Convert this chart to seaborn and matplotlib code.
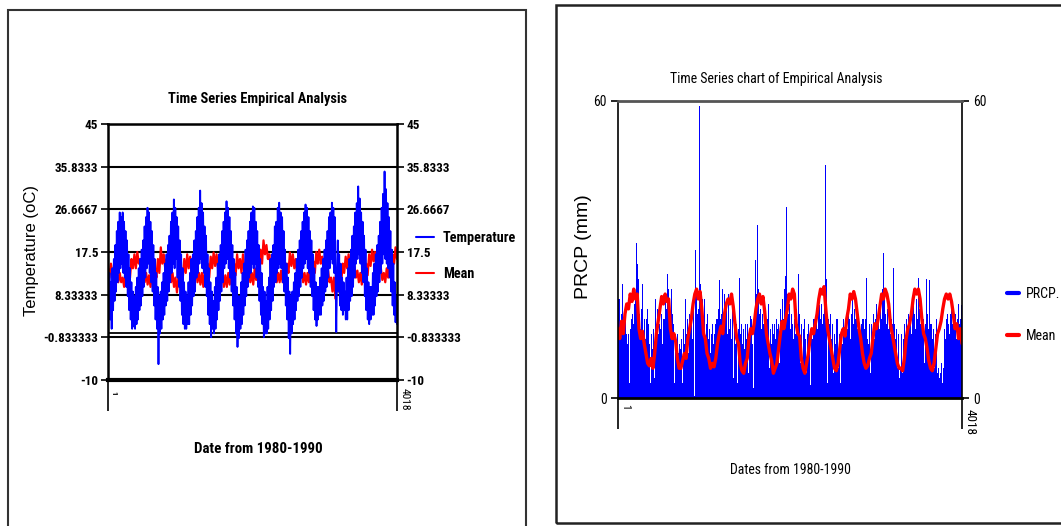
import numpy as np
import pandas as pd
import matplotlib
matplotlib.use('Agg')
import matplotlib.pyplot as plt
import seaborn as sns
from matplotlib import font_manager as fm
from matplotlib.lines import Line2D
from matplotlib.patches import Rectangle

# ---------------- Temperature, read roughly every 10 days (36 values a year)
t1980 = [10, 3, 13, 3, 11, 1, 14, 5, 16, 7, 19, 9, 22, 11, 24, 13, 26, 14, 25, 15, 26, 13, 24, 12, 22, 10, 20, 8, 17, 5, 14, 3, 11, 1, 9, 1.5]
t1981 = [8, 1, 10, 2, 12, 3, 14, 5, 16, 6, 18, 8, 20, 10, 23, 12, 25, 14, 27, 15, 26, 13, 24, 11, 22, 9, 19, 6, 16, 3, 13, 1, 10, -6.6, 8, 0]
t1982 = [9, 1, 11, 3, 13, 4, 15, 6, 17, 7, 19, 9, 21, 11, 24, 13, 26, 15, 28.8, 14, 27, 16, 25, 12, 23, 10, 20, 7, 17, 4, 14, 2, 11, 1, 9, 1]
t1983 = [8, 2, 11, 2, 13, 4, 16, 6, 17, 8, 20, 9, 22, 12, 25, 13, 27, 15, 30.7, 16, 28, 14, 26, 13, 23, 10, 21, 8, 17, 4, 14, 2, 11, -0.8, 9, 1]
t1984 = [7, 0, 10, 1, 12, 3, 15, 5, 17, 7, 19, 9, 22, 11, 24, 14, 26, 15, 28.4, 16, 27, 14, 25, 12, 22, 9, 19, 6, 16, 3, 13, 0, 10, -2.9, 8, -1]
t1985 = [8, 1, 11, 2, 13, 4, 15, 6, 18, 8, 20, 10, 22, 12, 24, 13, 26, 15, 27.3, 14, 27, 15, 24, 12, 22, 10, 19, 7, 16, 4, 13, 2, 10, -0.8, 9, 0]
t1986 = [7, 0, 10, 1, 12, 3, 16, 5, 17, 7, 19, 10, 23, 11, 24, 13, 27, 14, 28.1, 15, 26, 14, 25, 11, 22, 9, 18, 6, 15, 3, 12, -1, 9, -4.4, 8, 0]
t1987 = [9, 2, 11, 3, 13, 5, 16, 7, 18, 8, 20, 10, 22, 12, 24, 14, 26, 15, 27.7, 16, 27, 14, 25, 13, 22, 10, 20, 8, 17, 5, 14, 3, 11, 1.6, 10, 3]
t1988 = [10, 4, 12, 4, 14, 6, 16, 7, 18, 9, 20, 10, 22, 12, 25, 14, 26, 16, 28.1, 15, 27, 13, 25, 12, 0.3, 11, 20, 9, 17, 6, 15, 5, 12, 4, 11, 5]
t1989 = [9, 3, 12, 3, 14, 5, 16, 7, 18, 8, 21, 10, 23, 12, 26, 15, 28, 16, 31.6, 17, 29, 15, 26, 13, 24, 11, 21, 8, 18, 5, 14, 3, 11, 2, 10, 3]
t1990 = [10, 4, 13, 4, 15, 6, 17, 8, 19, 9, 21, 11, 24, 13, 27, 15, 30, 17, 34.8, 16, 31, 15, 28, 14, 25, 12, 22, 9, 18, 6, 15, 4, 11, 2.4, 8, 2]

# ---------------- Temperature mean, about every 20 days (18 values a year)
tm1980 = [14, 12, 15, 13, 14, 12, 13, 11, 13, 11, 12, 10, 13, 11, 14, 12, 16, 14]
tm1981 = [17, 14, 17.5, 15, 16, 13, 14, 11, 13, 10.5, 12.5, 10, 13, 11, 14, 12, 16, 13]
tm1982 = [18.5, 15, 17, 14, 16, 13, 14, 11, 13, 10, 12, 8.8, 12, 10, 14, 12, 16, 13]
tm1983 = [17, 14, 16.5, 13.5, 15, 12, 14, 11, 13, 10.5, 13, 10, 13.5, 11, 15, 12, 16.5, 14]
tm1984 = [17.4, 14.5, 17, 14, 15.5, 12, 13, 10, 12.5, 10, 13, 10.5, 14, 11, 15, 12.5, 17, 14]
tm1985 = [16, 13, 17, 14, 15, 12.5, 14, 11, 13, 10.5, 14, 11.5, 16, 13, 18, 15, 20, 17]
tm1986 = [19, 16, 17, 14, 15, 12, 14, 11, 13, 11, 13.5, 11, 14, 12, 15, 13, 17.4, 14.5]
tm1987 = [17, 14, 16, 13, 15, 12, 14, 11, 13, 10.5, 13, 11, 14, 11.5, 15.5, 13, 17.5, 15]
tm1988 = [18, 15, 16.5, 13.5, 15, 12, 13.5, 11, 12, 9, 12, 7.5, 11, 9, 13, 11, 15, 13]
tm1989 = [16.5, 14, 17, 14, 16, 13, 14.5, 12, 13.5, 11, 13, 10.5, 14, 11, 15, 12.5, 17, 14.5]
tm1990 = [18, 15.5, 17.5, 14, 15.5, 13, 14, 11.5, 13, 11, 14, 12, 15, 13, 17, 15, 18.5, 16]

# ---------------- Precipitation, about every 11 days (32 values a year)
p1980 = [20, 16, 20, 15, 17, 23, 15, 14, 16, 13, 11, 13, 3, 14, 16, 17, 15, 19, 21, 31.4, 27, 24, 17, 14, 18, 23, 13, 16, 12, 16, 18, 15]
p1981 = [11, 3, 13, 10, 14, 4, 20, 15, 18, 13, 15, 14, 17, 11, 16, 16, 21, 15, 18, 25, 22, 17, 13, 22, 17, 15, 3, 12, 10, 13, 9, 11]
p1982 = [10, 12, 3, 14, 11, 20, 13, 16, 9, 17, 15, 16, 12, 19, 0.5, 30, 21, 17, 18, 59, 23, 17, 20, 14, 20, 11, 15, 17, 12, 14, 9, 13]
p1983 = [15, 11, 13, 15, 4, 16, 14, 18, 23.8, 16, 17, 22, 15, 21, 17, 19, 13, 21, 14, 16, 12, 18, 4, 15, 11, 15, 3, 14, 24.2, 13, 15, 11]
p1984 = [14, 10, 15, 12, 15, 5, 14, 16.6, 16, 11, 2, 15, 27.9, 21, 35, 22, 17, 18, 14, 17, 15, 13, 17, 12, 15, 16, 19, 6, 14, 11, 15, 13]
p1985 = [15, 12, 16, 14, 15, 7, 18, 15, 20, 16, 22, 24.6, 38.5, 21, 17, 19, 14, 17, 15, 12, 16, 13, 18, 15, 25, 17, 7, 15, 6, 14, 16, 12]
p1986 = [5, 13, 15, 11, 2.6, 14, 12, 15, 16, 13, 15, 17, 14, 18, 18.8, 16, 19, 15, 17, 22, 47, 24, 3, 16, 15, 17, 12, 15, 5, 13, 11, 16]
p1987 = [16, 6, 13, 3, 14, 11, 16, 13, 15, 17, 14, 19, 16, 12, 17, 21, 15, 18, 16, 20, 14, 17, 15, 11, 15, 13, 16, 6, 14, 16, 24.3, 12]
p1988 = [11, 15, 5, 15, 13, 17, 12, 16, 19, 15, 17, 14, 20, 16, 22, 29.3, 21, 17, 15, 18, 14, 17, 13, 16, 15, 26.3, 15, 12, 14, 6, 13, 4]
p1989 = [6, 13, 5, 12, 15, 11, 16, 14, 17, 15, 17, 13, 16, 19, 15, 17, 14, 20, 16, 24.3, 18, 15, 17, 13, 16, 7, 15, 24, 17, 14, 23.8, 15]
p1990 = [15, 12, 14, 6, 13, 16, 5, 6, 4, 5, 7, 3, 6, 14, 12, 16, 17, 15, 13, 17, 19.8, 15, 18, 14, 17, 12, 16, 19, 15, 16, 18.7, 15]

# ---------------- Precipitation mean, about every 20 days (18 values a year)
pm1980 = [14, 12, 15.5, 13, 17, 19, 18, 21, 19.5, 22, 20, 21, 14, 12, 13.5, 11, 9, 7]
pm1981 = [6.5, 8, 6, 9, 13, 15.5, 18, 20.5, 19, 21, 19.5, 20, 14, 12, 13, 11.5, 8, 6]
pm1982 = [6, 7.5, 9, 8, 12, 14, 16, 19, 21, 22, 20, 21.5, 18, 13, 12, 9, 8, 6]
pm1983 = [7, 6.3, 8, 11, 13, 14.5, 13, 17, 19, 20, 19, 21, 18.5, 15, 12, 11, 7, 5.5]
pm1984 = [5, 7, 8, 12, 14, 13, 15, 18, 20, 21, 19, 20.5, 17.5, 13, 11, 9, 7.5, 5]
pm1985 = [6, 7, 10, 13, 15.5, 14, 16, 18, 21, 20, 22, 21, 15, 13, 12.5, 8, 6, 5]
pm1986 = [7, 9, 12, 14, 13, 15, 17, 20, 22, 21, 22.5, 18, 14, 12, 10, 8, 6, 5.5]
pm1987 = [7, 10, 13, 14, 12.5, 16, 18, 21, 20, 21.5, 20, 17, 14, 12, 9, 7, 6, 6.5]
pm1988 = [8, 9, 12, 15, 14, 16, 18.5, 21, 20, 22, 21, 19, 15, 13, 11, 9, 7, 6]
pm1989 = [6, 5.5, 8, 12, 14, 15, 17, 20, 22, 21, 22, 20, 16, 13, 12, 10, 7.5, 6]
pm1990 = [5.5, 7, 10, 13, 14, 15.5, 18, 20, 21, 20, 21, 19.5, 17, 14, 15, 12, 14, 11]

temp_ticks = [45, 35.8333, 26.6667, 17.5, 8.33333, -0.833333, -10]
temp_tick_labels = ['45', '35.8333', '26.6667', '17.5', '8.33333', '-0.833333', '-10']
prcp_ticks = [0, 60]
n_days = 4018

temp = np.concatenate([t1980, t1981, t1982, t1983, t1984, t1985, t1986, t1987, t1988, t1989, t1990])
temp_mean = np.concatenate([tm1980, tm1981, tm1982, tm1983, tm1984, tm1985, tm1986, tm1987, tm1988, tm1989, tm1990])
prcp = np.concatenate([p1980, p1981, p1982, p1983, p1984, p1985, p1986, p1987, p1988, p1989, p1990])
prcp_mean = np.concatenate([pm1980, pm1981, pm1982, pm1983, pm1984, pm1985, pm1986, pm1987, pm1988, pm1989, pm1990])

t_df = pd.DataFrame({'day': np.linspace(1, n_days, len(temp)), 'value': temp})
tm_df = pd.DataFrame({'day': np.linspace(1, n_days, len(temp_mean)), 'value': temp_mean})
p_df = pd.DataFrame({'day': np.linspace(1, n_days, len(prcp)), 'value': prcp})
pm_df = pd.DataFrame({'day': np.linspace(1, n_days, len(prcp_mean)), 'value': prcp_mean})

sns.set_style('white')
plt.rcParams['font.family'] = ['Liberation Sans', 'DejaVu Sans']
for key in ['text.color', 'axes.labelcolor', 'xtick.color', 'ytick.color']:
    plt.rcParams[key] = 'black'

# pick a narrow face if one is installed, else Arial-metric Liberation Sans at smaller size
installed = {f.name for f in fm.fontManager.ttflist}
narrow_name = next((n for n in ['Liberation Sans Narrow', 'Arial Narrow', 'Roboto Condensed',
                                'Open Sans Condensed', 'Noto Sans Condensed'] if n in installed), None)
if narrow_name:
    NFAM, K = [narrow_name, 'Liberation Sans', 'DejaVu Sans'], 1.18
else:
    NFAM, K = ['Liberation Sans', 'DejaVu Sans'], 1.0
REG = ['Liberation Sans', 'DejaVu Sans']
BLUE = '#0000ff'
RED = '#ff0000'

W, H = 1061, 526
fig = plt.figure(figsize=(W / 100, H / 100), dpi=100)

# panel frames
fig.add_artist(Rectangle((8 / W, -0.02), 518 / W, 1 - 10 / H + 0.02, transform=fig.transFigure,
                         fill=False, edgecolor='#333333', lw=1.5))
fig.add_artist(Rectangle((556 / W, 1 - 523 / H), 520 / W, 518 / H, transform=fig.transFigure,
                         fill=False, edgecolor='#222222', lw=1.8))

# ================= left: temperature
ax1 = fig.add_axes([108 / W, 1 - 380 / H, 289 / W, 256 / H])
ax1.set_axisbelow(True)
sns.lineplot(data=tm_df, x='day', y='value', ax=ax1, color=RED, linewidth=1.6)
sns.lineplot(data=t_df, x='day', y='value', ax=ax1, color=BLUE, linewidth=1.3)
ax1.axhline(0, color='black', lw=1.3, zorder=0.5)
ax1.set_xlim(1, n_days)
ax1.set_ylim(-10, 45)
ax1.set_yticks(temp_ticks, temp_tick_labels, fontfamily=NFAM, fontweight='bold', fontsize=8 * K)
ax1.grid(axis='y', color='black', lw=1.5)
ax1.grid(axis='x', visible=False)
ax1.tick_params(axis='y', left=True, right=True, labelleft=True, labelright=True,
                length=5, width=1.2, direction='out', pad=2, colors='black')
ax1.set_xticks([1, n_days], ['', ''])
ax1.tick_params(axis='x', bottom=True, length=22, width=1.2, direction='out')
ax1.set_xlabel('')
ax1.set_ylabel('')
for s in ['left', 'right', 'top']:
    ax1.spines[s].set_color('black')
    ax1.spines[s].set_linewidth(1.8)
ax1.spines['bottom'].set_color('black')
ax1.spines['bottom'].set_linewidth(3)
ax1.annotate('1', xy=(1, 0), xycoords=('data', 'axes fraction'), xytext=(1.5, -8),
             textcoords='offset points', rotation=-90, ha='left', va='top',
             fontfamily=NFAM, fontweight='bold', fontsize=5 * K)
ax1.annotate('4018', xy=(n_days, 0), xycoords=('data', 'axes fraction'), xytext=(2, -6),
             textcoords='offset points', rotation=-90, ha='left', va='top',
             fontfamily=NFAM, fontsize=7 * K)

fig.text(258 / W, 1 - 99 / H, 'Time Series Empirical Analysis', ha='center', va='center',
         fontfamily=NFAM, fontweight='bold', fontsize=8.8 * K)
fig.text(258 / W, 1 - 449 / H, 'Date from 1980-1990', ha='center', va='center',
         fontfamily=NFAM, fontweight='bold', fontsize=9.2 * K)
fig.text(32 / W, 1 - 251 / H, 'Temperature (oC)', ha='center', va='center', rotation=90,
         fontfamily=REG, fontsize=12)

h1 = [Line2D([], [], color=BLUE, lw=1.5), Line2D([], [], color=RED, lw=1.5)]
fig.legend(h1, ['Temperature', 'Mean'], loc='center left', bbox_to_anchor=(403 / W, 1 - 256 / H),
           frameon=False, handlelength=1.3, handletextpad=0.6, labelspacing=1.5,
           prop=fm.FontProperties(family=NFAM, weight='bold', size=8.7 * K))

# ================= right: precipitation
ax2 = fig.add_axes([618 / W, 1 - 398 / H, 344 / W, 297 / H])
step = (n_days - 1) / (len(prcp) - 1)
ax2.bar(p_df['day'], p_df['value'], width=step * 1.05, color=BLUE, linewidth=0, antialiased=False)
sns.lineplot(data=pm_df, x='day', y='value', ax=ax2, color=RED, linewidth=2.4)
ax2.set_xlim(1, n_days)
ax2.set_ylim(0, 60)
ax2.set_yticks(prcp_ticks, [str(v) for v in prcp_ticks], fontfamily=NFAM, fontsize=8.3 * K)
ax2.grid(False)
ax2.tick_params(axis='y', left=True, right=True, labelleft=True, labelright=True,
                length=5, width=1.2, direction='out', pad=3, colors='black')
ax2.set_xticks([1, n_days], ['', ''])
ax2.tick_params(axis='x', bottom=True, length=22, width=1.2, direction='out')
ax2.set_xlabel('')
ax2.set_ylabel('')
ax2.spines['top'].set_color('#555555')
ax2.spines['top'].set_linewidth(2)
for s in ['left', 'right']:
    ax2.spines[s].set_color('black')
    ax2.spines[s].set_linewidth(1.2)
ax2.spines['bottom'].set_color('black')
ax2.spines['bottom'].set_linewidth(2)
ax2.annotate('1', xy=(1, 0), xycoords=('data', 'axes fraction'), xytext=(1.5, -4),
             textcoords='offset points', rotation=-90, ha='left', va='top',
             fontfamily=NFAM, fontsize=7 * K)
ax2.annotate('4018', xy=(n_days, 0), xycoords=('data', 'axes fraction'), xytext=(1.5, -8),
             textcoords='offset points', rotation=-90, ha='left', va='top',
             fontfamily=NFAM, fontsize=8 * K)

fig.text(776 / W, 1 - 79 / H, 'Time Series chart of Empirical Analysis', ha='center', va='center',
         fontfamily=NFAM, fontsize=8.45 * K)
fig.text(790 / W, 1 - 470 / H, 'Dates from 1980-1990', ha='center', va='center',
         fontfamily=NFAM, fontsize=8.4 * K)
fig.text(583 / W, 1 - 247 / H, 'PRCP (mm)', ha='center', va='center', rotation=90,
         fontfamily=REG, fontsize=14)

h2 = [Line2D([], [], color=BLUE, lw=3), Line2D([], [], color=RED, lw=3)]
fig.legend(h2, ['PRCP.', 'Mean'], loc='center left', bbox_to_anchor=(994 / W, 1 - 315 / H),
           frameon=False, handlelength=0.9, handletextpad=0.5, labelspacing=2.0,
           prop=fm.FontProperties(family=NFAM, size=8.5 * K))

fig.savefig('out.png', dpi=100)
